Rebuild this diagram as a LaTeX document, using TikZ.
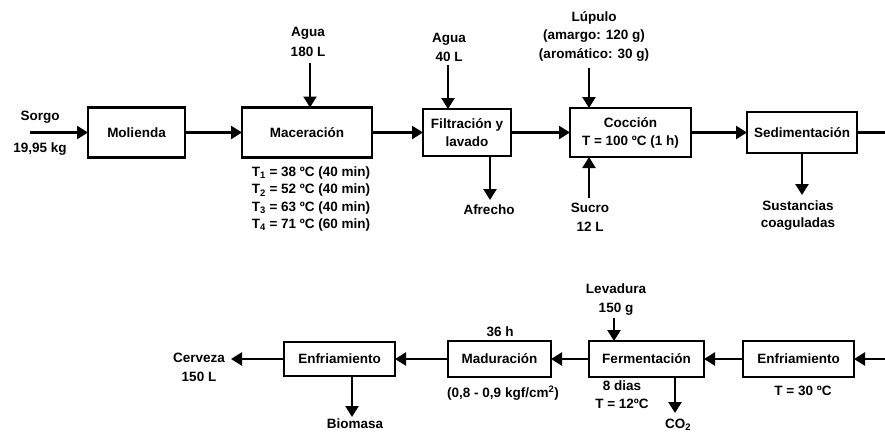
\documentclass[tikz,border=0pt]{standalone}
\usepackage{fontspec}
\setmainfont{Liberation Sans}
\usetikzlibrary{arrows.meta}
\begin{document}
\begin{tikzpicture}[x=1pt,y=-1pt,
  every node/.style={inner sep=0pt, outer sep=0pt},
  lab/.style={font=\bfseries\fontsize{13.5}{#1}\selectfont, align=center},
  lab/.default=18,
  proc/.style={draw, line width=2.4pt, font=\bfseries\fontsize{13.5}{18}\selectfont, align=center},
  flow/.style={line width=2.4pt, -{Triangle[width=13pt,length=11pt]}},
  plain/.style={line width=2.4pt}]
\useasboundingbox (0,0) rectangle (885,434);
% top row
\node[proc, minimum width=97pt, minimum height=50pt] (mol) at (136.5,132.5) {Molienda};
\node[proc, minimum width=130pt, minimum height=50pt] (mac) at (307,132.5) {Maceración};
\node[proc, minimum width=88pt, minimum height=47pt] (fil) at (467,132.5) {Filtración y\\lavado};
\node[proc, minimum width=121pt, minimum height=49pt] (coc) at (630.5,132.5) {Cocción\\T = 100 ºC (1 h)};
\node[proc, minimum width=110pt, minimum height=41pt] (sed) at (802,132.5) {Sedimentación};
% bottom row
\node[proc, minimum width=111pt, minimum height=34pt] (enfL) at (339.5,359) {Enfriamiento};
\node[proc, minimum width=103pt, minimum height=36pt] (mad) at (499.5,359) {Maduración};
\node[proc, minimum width=115pt, minimum height=36pt] (fer) at (646.5,359) {Fermentación};
\node[proc, minimum width=111pt, minimum height=36pt] (enfR) at (798.5,359) {Enfriamiento};
% labels
\node[lab] (sorgo) at (40,117) {Sorgo};
\node[lab] (kg) at (40,149) {19,95 kg};
\node[lab=20] (agua1) at (308,42) {Agua\\180 L};
\node[lab=17.3] (temps) at (311,199) {T\textsubscript{1} = 38 ºC (40 min)\\T\textsubscript{2} = 52 ºC (40 min)\\T\textsubscript{3} = 63 ºC (40 min)\\T\textsubscript{4} = 71 ºC (60 min)};
\node[lab=19] (agua2) at (449,47.5) {Agua\\40 L};
\node[lab] (afr) at (489,210) {Afrecho};
\node[lab=18.5] (lup) at (594,36) {Lúpulo\\(amargo: 120 g)\\(aromático: 30 g)};
\node[lab=19] (suc) at (590,217.5) {Sucro\\12 L};
\node[lab=17] (sus) at (798,215.5) {Sustancias\\coaguladas};
\node[lab=19] (cer) at (199,367.5) {Cerveza\\150 L};
\node[lab] (bio) at (355,424) {Biomasa};
\node[lab=19] (lev) at (616,299.5) {Levadura\\150 g};
\node[lab] (h36) at (500,332) {36 h};
\node[lab] (pres) at (503,393) {(0,8 - 0,9 kgf/cm\textsuperscript{2})};
\node[lab=17.5] (dias) at (622,394.5) {8 dias\\T = 12ºC};
\node[lab] (co2) at (678,425) {CO\textsubscript{2}};
\node[lab] (t30) at (803,391) {T = 30 ºC};
% free ends
\coordinate (sIn) at (30,132.5);
\coordinate (a1) at (310,63);
\coordinate (a2) at (448,65);
\coordinate (l1) at (589,68);
\coordinate (s1) at (589,198);
\coordinate (af) at (490,200);
\coordinate (su) at (802,195);
\coordinate (topR) at (885,132.5);
\coordinate (botR) at (885,359);
\coordinate (cv) at (231,359);
\coordinate (bm) at (352,417);
\coordinate (lv) at (614,318);
\coordinate (c2) at (675,413);
% connectors top
\draw[flow] (sIn) -- (mol.west |- sIn);
\draw[flow] (mol.east) -- (mac.west);
\draw[flow] (mac.east) -- (fil.west);
\draw[flow] (fil.east) -- (coc.west);
\draw[flow] (coc.east) -- (sed.west);
\draw[plain] (sed.east) -- (topR);
\draw[flow] (a1) -- (a1 |- mac.north);
\draw[flow] (a2) -- (a2 |- fil.north);
\draw[flow] (l1) -- (l1 |- coc.north);
\draw[flow] (s1) -- (s1 |- coc.south);
\draw[flow] (af |- fil.south) -- (af);
\draw[flow] (su |- sed.south) -- (su);
% connectors bottom
\draw[flow] (botR) -- (enfR.east);
\draw[flow] (enfR.west) -- (fer.east);
\draw[flow] (fer.west) -- (mad.east);
\draw[flow] (mad.west) -- (enfL.east);
\draw[flow] (enfL.west) -- (cv);
\draw[flow] (bm |- enfL.south) -- (bm);
\draw[flow] (lv) -- (lv |- fer.north);
\draw[flow] (c2 |- fer.south) -- (c2);
\end{tikzpicture}
\end{document}
